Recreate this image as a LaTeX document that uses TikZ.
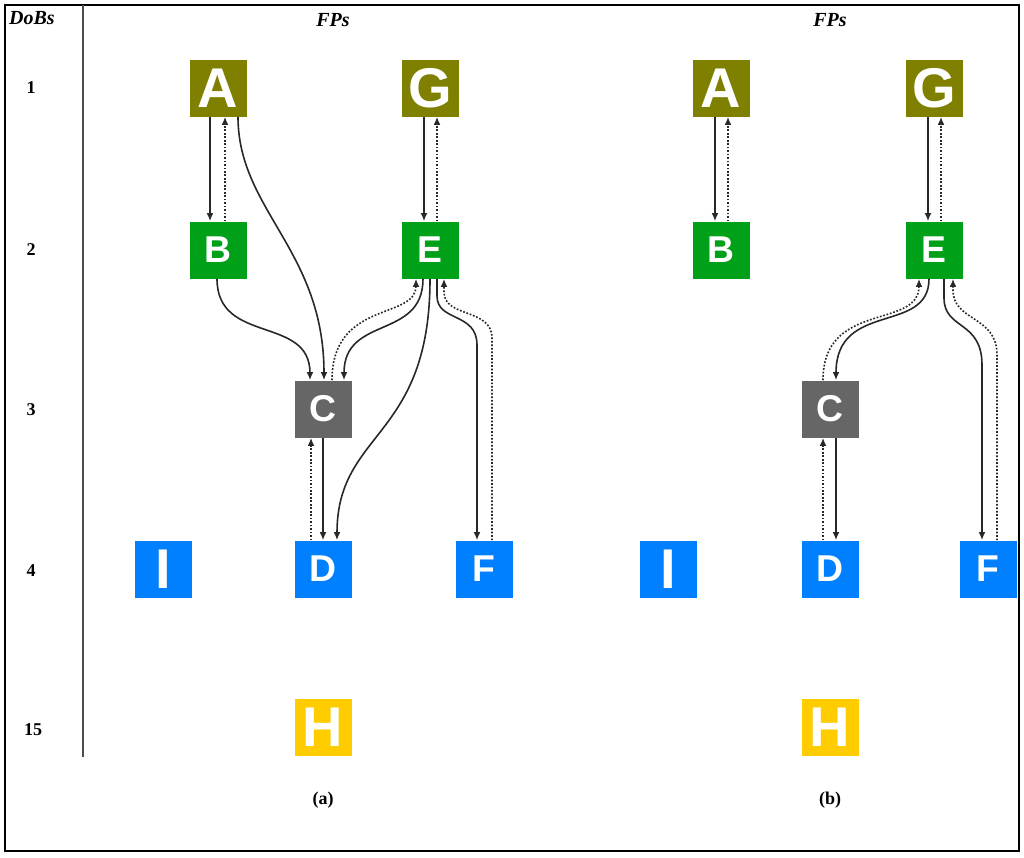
\documentclass[tikz,border=0pt]{standalone}
\usepackage{fontspec}
\setmainfont{Liberation Serif}
\newfontfamily\arialf{Liberation Sans}
\usetikzlibrary{arrows.meta,calc}
\definecolor{olivebox}{RGB}{128,128,0}
\definecolor{greenbox}{RGB}{0,160,24}
\definecolor{graybox}{RGB}{102,102,102}
\definecolor{bluebox}{RGB}{0,128,255}
\definecolor{yellowbox}{RGB}{255,204,0}
\definecolor{linec}{RGB}{40,40,40}
\tikzset{
  fp/.style={minimum width=42.75pt,minimum height=42.75pt,inner sep=0pt,text=white},
  bigl/.style={fp,font=\arialf\bfseries\fontsize{42}{42}\selectfont},
  smalll/.style={fp,font=\arialf\bfseries\fontsize{28}{28}\selectfont},
  sol/.style={draw=linec,line width=1.2pt,-{Latex[length=6pt,width=5pt]}},
  dot/.style={draw=linec,line width=1.2pt,dash pattern=on 1.3pt off 1.3pt,-{Latex[length=6pt,width=5pt]}},
  lab/.style={font=\bfseries\fontsize{13.5}{13.5}\selectfont},
  head/.style={font=\bfseries\itshape\fontsize{15}{15}\selectfont}
}
\begin{document}
\begin{tikzpicture}[x=0.75pt,y=-0.75pt]
\useasboundingbox (0,0) rectangle (1024,857);
\draw[line width=2.2pt] (5,5) rectangle (1019,851);
\draw[line width=0.8pt,draw=black!70] (83,5) -- (83,757);
% headings
\node[head] (dobs) at (32,18) {DoBs};
\node[head] (fpa) at (333,20) {FPs};
\node[head] (fpb) at (830,20) {FPs};
\node[lab] (r1) at (31,88) {1};
\node[lab] (r2) at (31,250) {2};
\node[lab] (r3) at (31,410) {3};
\node[lab] (r4) at (31,571) {4};
\node[lab] (r15) at (33,730) {15};
\node[lab] (capa) at (323,800) {(a)};
\node[lab] (capb) at (830,800) {(b)};
% (a) nodes
\node[bigl,fill=olivebox] (A) at (218,88) {A};
\node[bigl,fill=olivebox] (G) at (430,88) {G};
\node[smalll,fill=greenbox] (B) at (218,250) {B};
\node[smalll,fill=greenbox] (E) at (430,250) {E};
\node[smalll,fill=graybox] (C) at (323,409) {C};
\node[smalll,fill=bluebox] (D) at (323,569) {D};
\node[smalll,fill=bluebox] (F) at (484,569) {F};
\node[bigl,fill=bluebox] (I) at (163,569) {I};
\node[bigl,fill=yellowbox] (H) at (323,727) {H};
% (b) nodes
\node[bigl,fill=olivebox] (A2) at (721,88) {A};
\node[bigl,fill=olivebox] (G2) at (934,88) {G};
\node[smalll,fill=greenbox] (B2) at (721,250) {B};
\node[smalll,fill=greenbox] (E2) at (934,250) {E};
\node[smalll,fill=graybox] (C2) at (830,409) {C};
\node[smalll,fill=bluebox] (D2) at (830,569) {D};
\node[smalll,fill=bluebox] (F2) at (988,569) {F};
\node[bigl,fill=bluebox] (I2) at (668,569) {I};
\node[bigl,fill=yellowbox] (H2) at (830,727) {H};
% (a) connectors
\draw[sol] ($(A.south)+(-8,0)$) -- ($(B.north)+(-8,0)$);
\draw[dot] ($(B.north)+(7,0)$) -- ($(A.south)+(7,0)$);
\draw[sol] ($(G.south)+(-6,0)$) -- ($(E.north)+(-6,0)$);
\draw[dot] ($(E.north)+(7,0)$) -- ($(G.south)+(7,0)$);
\draw[sol] ($(A.south)+(20,0)$) .. controls (238,210) and (324,250) .. ($(C.north)+(1,0)$);
\draw[sol] ($(B.south)+(-1,0)$) .. controls (217,345) and (310,315) .. ($(C.north)+(-13,0)$);
\draw[sol] ($(E.south)+(-7,0)$) .. controls (423,340) and (344,315) .. ($(C.north)+(21,0)$);
\draw[dot] ($(C.north)+(9,0)$) .. controls (332,300) and (416,320) .. ($(E.south)+(-14,0)$);
\draw[sol] (E.south) .. controls (430,440) and (337,430) .. ($(D.north)+(14,0)$);
\draw[sol] (C.south) -- (D.north);
\draw[dot] ($(D.north)+(-12,0)$) -- ($(C.south)+(-12,0)$);
\coordinate (ef1) at (437,296);
\coordinate (ef2) at (477,345);
\draw[sol] ($(E.south)+(7,0)$) -- (ef1) .. controls (437,322) and (477,312) .. (ef2) -- ($(F.north)+(-7,0)$);
\coordinate (fe1) at (492,338);
\coordinate (fe2) at (444,292);
\draw[dot] ($(F.north)+(8,0)$) -- (fe1) .. controls (492,308) and (444,318) .. (fe2) -- ($(E.south)+(14,0)$);
% (b) connectors
\draw[sol] ($(A2.south)+(-6,0)$) -- ($(B2.north)+(-6,0)$);
\draw[dot] ($(B2.north)+(7,0)$) -- ($(A2.south)+(7,0)$);
\draw[sol] ($(G2.south)+(-6,0)$) -- ($(E2.north)+(-6,0)$);
\draw[dot] ($(E2.north)+(7,0)$) -- ($(G2.south)+(7,0)$);
\draw[sol] ($(E2.south)+(-5,0)$) .. controls (929,335) and (836,300) .. ($(C2.north)+(6,0)$);
\draw[dot] ($(C2.north)+(-7,0)$) .. controls (823,300) and (919,330) .. ($(E2.south)+(-15,0)$);
\draw[sol] ($(C2.south)+(6,0)$) -- ($(D2.north)+(6,0)$);
\draw[dot] ($(D2.north)+(-7,0)$) -- ($(C2.south)+(-7,0)$);
\coordinate (ef3) at (944,298);
\coordinate (ef4) at (982,365);
\draw[sol] ($(E2.south)+(10,0)$) -- (ef3) .. controls (944,330) and (982,320) .. (ef4) -- ($(F2.north)+(-6,0)$);
\coordinate (fe3) at (997,355);
\coordinate (fe4) at (953,290);
\draw[dot] ($(F2.north)+(9,0)$) -- (fe3) .. controls (997,315) and (953,322) .. (fe4) -- ($(E2.south)+(19,0)$);
\end{tikzpicture}
\end{document}
